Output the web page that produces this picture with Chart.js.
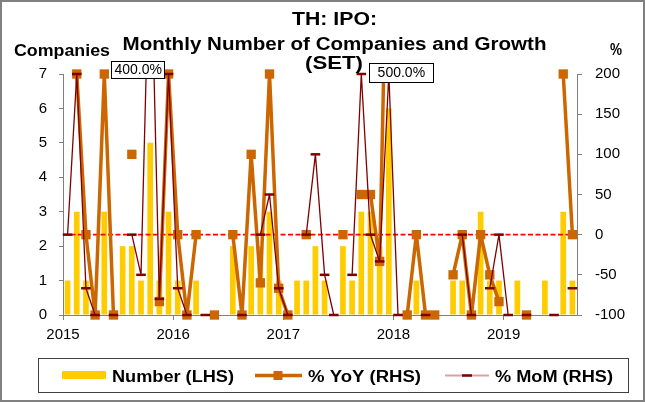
<!DOCTYPE html>
<html>
<head>
<meta charset="utf-8">
<script src="https://cdn.jsdelivr.net/npm/chart.js@4/dist/chart.umd.min.js"></script>
<style>
html,body{margin:0;padding:0;background:#fff;}
canvas{display:block;}
</style>
</head>
<body>
<canvas id="c" width="645" height="402"></canvas>
<script>
const categories = [
 '2015-01','2015-02','2015-03','2015-04','2015-05','2015-06','2015-07','2015-08','2015-09','2015-10','2015-11','2015-12',
 '2016-01','2016-02','2016-03','2016-04','2016-05','2016-06','2016-07','2016-08','2016-09','2016-10','2016-11','2016-12',
 '2017-01','2017-02','2017-03','2017-04','2017-05','2017-06','2017-07','2017-08','2017-09','2017-10','2017-11','2017-12',
 '2018-01','2018-02','2018-03','2018-04','2018-05','2018-06','2018-07','2018-08','2018-09','2018-10','2018-11','2018-12',
 '2019-01','2019-02','2019-03','2019-04','2019-05','2019-06','2019-07','2019-08'
];
const yearLabels = ['2015','2016','2017','2018','2019'];
const numberLHS = [
 1,3,1,0,3,0,2,2,1,5,1,3,
 1,0,1,0,0,0,2,0,2,2,3,1,
 0,1,1,2,1,0,2,1,3,3,2,6,
 0,0,1,0,0,0,1,1,0,3,1,1,
 0,1,0,0,1,0,3,1
];
const yoyRHS = [
 null,200,0,-100,200,-100,null,100,null,null,-83.3,200,
 0,-100,0,null,-100,null,0,-100,100,-60,200,-66.7,
 -100,null,0,null,null,null,0,null,50,50,-33.3,500,
 null,-100,0,-100,-100,null,-50,0,-100,0,-50,-83.3,
 null,null,-100,null,null,null,200,0
];
const momRHS = [
 0,200,-66.7,-100,null,-100,null,0,-50,400,-80,200,
 -66.7,-100,null,-100,null,null,null,-100,null,0,50,-66.7,
 -100,null,0,100,-50,-100,null,-50,200,0,-33.3,200,
 -100,null,null,-100,null,null,null,0,-100,null,-66.7,0,
 -100,null,-100,null,null,-100,null,-66.7
];

const FAM = '"Liberation Sans", Arial, sans-serif';
const C_BAR = '#FFCC00', C_YOY = '#CC6600', C_MOM = '#800000';

function sText(ctx, txt, x, y, font, w, align) {
  ctx.save();
  ctx.font = font;
  const m = ctx.measureText(txt).width;
  const s = w / m;
  ctx.translate(x, y);
  ctx.scale(s, 1);
  ctx.textAlign = align || 'left';
  ctx.textBaseline = 'alphabetic';
  ctx.fillStyle = '#000';
  ctx.fillText(txt, 0, 0);
  ctx.restore();
}

const decor = {
  id: 'decor',
  beforeDraw(chart) {
    const ctx = chart.ctx;
    ctx.save();
    ctx.fillStyle = '#fff';
    ctx.fillRect(0, 0, chart.width, chart.height);
    ctx.restore();
  },
  afterDatasetDraw(chart, args) {
    if (args.index !== 0) return;
    const ctx = chart.ctx, a = chart.chartArea;
    const y = chart.scales.yR.getPixelForValue(0);
    ctx.save();
    ctx.strokeStyle = '#FF0000';
    ctx.lineWidth = 1.6;
    ctx.setLineDash([5, 2.5]);
    ctx.beginPath();
    ctx.moveTo(a.left, y);
    ctx.lineTo(a.right, y);
    ctx.stroke();
    ctx.restore();
  },
  afterDraw(chart) {
    const ctx = chart.ctx, a = chart.chartArea, xs = chart.scales.x;
    const specs = [
      { data: momRHS, dx: -12, dy: -4.5, padX: 3, h: 17 },
      { data: yoyRHS, dx: 12.5, dy: -1.5, padX: 8.5, h: 19 }
    ];
    specs.forEach(s => s.data.forEach((v, i) => {
      if (v === null || v <= chart.scales.yR.max) return;
      const cx = xs.getPixelForValue(i) + s.dx;
      const cy = a.top + s.dy;
      const txt = v.toFixed(1) + '%';
      ctx.save();
      ctx.font = '14px ' + FAM;
      const w = ctx.measureText(txt).width + 2 * s.padX;
      ctx.fillStyle = '#fff';
      ctx.fillRect(Math.round(cx - w / 2) + 0.5, Math.round(cy - s.h / 2) + 0.5, Math.round(w), s.h);
      ctx.strokeStyle = '#000';
      ctx.lineWidth = 1;
      ctx.strokeRect(Math.round(cx - w / 2) + 0.5, Math.round(cy - s.h / 2) + 0.5, Math.round(w), s.h);
      ctx.fillStyle = '#000';
      ctx.textAlign = 'center';
      ctx.textBaseline = 'middle';
      ctx.fillText(txt, cx, cy + 1);
      ctx.restore();
    }));

    sText(ctx, 'TH: IPO:', 334.5, 25, 'bold 18px ' + FAM, 85, 'center');
    sText(ctx, 'Monthly Number of Companies and Growth', 334.5, 50, 'bold 18px ' + FAM, 424, 'center');
    sText(ctx, '(SET)', 334, 69, 'bold 18px ' + FAM, 58, 'center');
    sText(ctx, 'Companies', 14, 56, 'bold 17px ' + FAM, 96, 'left');
    sText(ctx, '%', 616, 55, 'bold 16px ' + FAM, 12, 'center');

    ctx.save();
    ctx.strokeStyle = '#404040';
    ctx.lineWidth = 1;
    ctx.strokeRect(38.5, 358.5, 590, 34);
    ctx.fillStyle = C_BAR;
    ctx.fillRect(62, 371, 44, 8);
    ctx.strokeStyle = C_YOY;
    ctx.lineWidth = 3.5;
    ctx.beginPath(); ctx.moveTo(255, 375.5); ctx.lineTo(302, 375.5); ctx.stroke();
    ctx.fillStyle = C_YOY;
    ctx.fillRect(273.5, 371, 9, 9);
    ctx.strokeStyle = '#D9A3A3';
    ctx.lineWidth = 2;
    ctx.beginPath(); ctx.moveTo(445, 375.5); ctx.lineTo(489, 375.5); ctx.stroke();
    ctx.strokeStyle = C_MOM;
    ctx.lineWidth = 2.5;
    ctx.beginPath(); ctx.moveTo(462, 375.5); ctx.lineTo(472, 375.5); ctx.stroke();
    ctx.restore();
    sText(ctx, 'Number (LHS)', 112, 381.5, 'bold 16px ' + FAM, 122, 'left');
    sText(ctx, '% YoY (RHS)', 308, 381.5, 'bold 16px ' + FAM, 113, 'left');
    sText(ctx, '% MoM (RHS)', 495, 381.5, 'bold 16px ' + FAM, 118, 'left');

    ctx.save();
    ctx.strokeStyle = '#808080';
    ctx.lineWidth = 2;
    ctx.strokeRect(1, 1, chart.width - 2, chart.height - 2);
    ctx.restore();
  }
};

const lineClip = { left: 6, right: 6, top: 1, bottom: 2 };
const ptClip = { left: 10, right: 10, top: 8, bottom: 8 };

new Chart(document.getElementById('c'), {
  type: 'bar',
  data: {
    labels: categories,
    datasets: [
      { type: 'bar', label: 'Number (LHS)', data: numberLHS, yAxisID: 'yL', backgroundColor: C_BAR,
        barPercentage: 0.62, categoryPercentage: 1, order: 5 },
      { type: 'line', label: '% YoY (RHS)', data: yoyRHS, yAxisID: 'yR', borderColor: C_YOY, borderWidth: 3.5,
        borderJoinStyle: 'round', pointRadius: 0, tension: 0, clip: lineClip, order: 4 },
      { type: 'line', label: '% YoY (RHS) markers', data: yoyRHS, yAxisID: 'yR', showLine: false,
        pointStyle: 'rect', pointRadius: 6.6, pointBackgroundColor: C_YOY, pointBorderColor: C_YOY,
        pointBorderWidth: 0, clip: ptClip, order: 3 },
      { type: 'line', label: '% MoM (RHS)', data: momRHS, yAxisID: 'yR', borderColor: C_MOM, borderWidth: 1.3,
        borderJoinStyle: 'round', pointRadius: 0, tension: 0, clip: lineClip, order: 2 },
      { type: 'line', label: '% MoM (RHS) markers', data: momRHS, yAxisID: 'yR', showLine: false,
        pointStyle: 'line', pointRadius: 4.8, pointBorderColor: C_MOM, pointBorderWidth: 2.5,
        clip: ptClip, order: 1 }
    ]
  },
  options: {
    responsive: false,
    animation: false,
    events: [],
    layout: { padding: { top: 74, left: 0, right: 0, bottom: 0 } },
    plugins: { legend: { display: false }, title: { display: false }, tooltip: { enabled: false } },
    scales: {
      x: { display: false, offset: true, grid: { offset: true } },
      xYear: {
        type: 'linear', position: 'bottom', min: 0, max: categories.length,
        offset: false,
        afterBuildTicks(s) { s.ticks = yearLabels.map((_, k) => ({ value: k * 12 })); },
        ticks: { callback: (v, i) => yearLabels[i], color: '#000', font: { size: 15, family: FAM },
                 padding: 6, maxRotation: 0, autoSkip: false, align: 'center' },
        grid: { offset: false, drawOnChartArea: false, drawTicks: true, tickLength: 5, color: '#808080' },
        border: { color: '#808080', width: 1 },
        afterFit(s) { s.height = 87; }
      },
      yL: {
        position: 'left', min: 0, max: 7,
        ticks: { stepSize: 1, color: '#000', font: { size: 15, family: FAM }, padding: 12 },
        grid: { drawOnChartArea: false, drawTicks: true, tickLength: 4, color: '#808080' },
        border: { color: '#808080', width: 1 },
        afterFit(s) { s.width = 63; }
      },
      yR: {
        position: 'right', min: -100, max: 200,
        ticks: { stepSize: 50, color: '#000', font: { size: 15, family: FAM }, padding: 13 },
        grid: { drawOnChartArea: false, drawTicks: true, tickLength: 5, color: '#808080' },
        border: { color: '#808080', width: 1 },
        afterFit(s) { s.width = 68; }
      }
    }
  },
  plugins: [decor]
});
</script>
</body>
</html>
